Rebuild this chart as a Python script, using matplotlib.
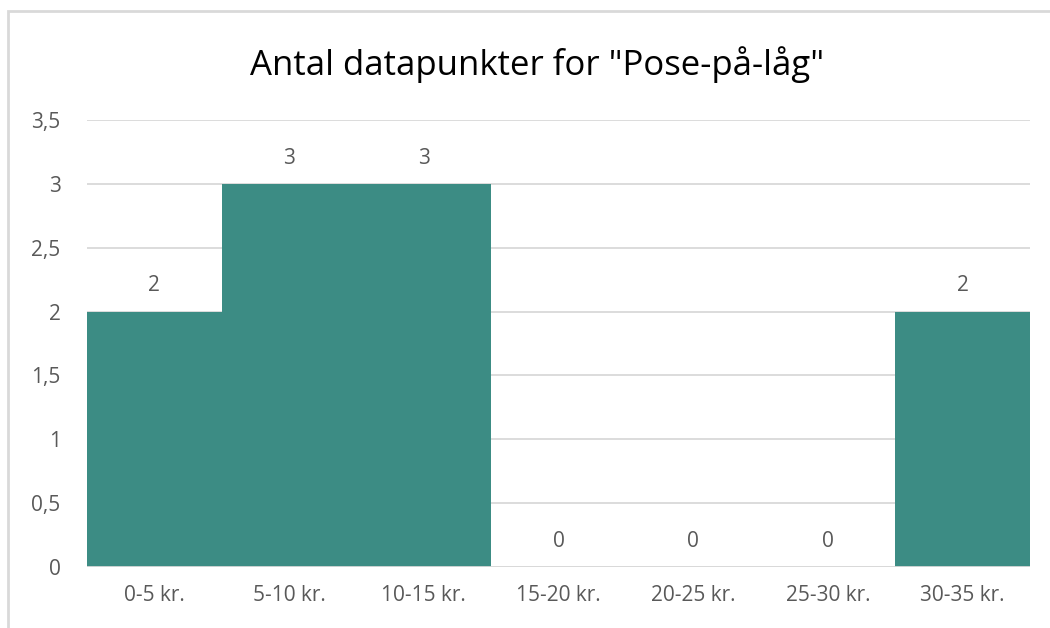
import matplotlib.pyplot as plt
from matplotlib.patches import Rectangle

# Data
categories = ["0-5 kr.", "5-10 kr.", "10-15 kr.", "15-20 kr.", "20-25 kr.", "25-30 kr.", "30-35 kr."]
counts = [2, 3, 3, 0, 0, 0, 2]
yticks = [0, 0.5, 1, 1.5, 2, 2.5, 3, 3.5]
ytick_labels = ["0", "0,5", "1", "1,5", "2", "2,5", "3", "3,5"]

plt.rcParams['font.family'] = ['Open Sans', 'DejaVu Sans']
text_color = '#595959'
grid_color = '#D9D9D9'
bar_color = '#3C8C84'

fig = plt.figure(figsize=(10.5, 6.28), dpi=100)
ax = fig.add_axes([87/1050, 61/628, 943/1050, 447/628])

x = range(len(categories))
ax.bar(x, counts, width=1.0, color=bar_color, zorder=2)

for xi, v in zip(x, counts):
    ax.annotate(str(v), (xi, v), xytext=(0, 11), textcoords='offset points',
                ha='center', va='bottom', fontsize=15, color=text_color)

ax.set_xlim(-0.5, len(categories) - 0.5)
ax.set_ylim(0, 3.5)
ax.set_yticks(yticks)
ax.set_yticklabels(ytick_labels)
ax.set_xticks(list(x))
ax.set_xticklabels(categories)
ax.tick_params(axis='both', length=0, labelsize=15, labelcolor=text_color)
ax.tick_params(axis='y', pad=19)
ax.tick_params(axis='x', pad=13)
ax.grid(axis='y', color=grid_color, linewidth=1.3, zorder=0)
for s in ax.spines.values():
    s.set_visible(False)
ax.axhline(0, color=grid_color, linewidth=1.3, zorder=3)

fig.text(537/1050, 1 - 65/628, 'Antal datapunkter for "Pose-på-låg"',
         ha='center', va='center', fontsize=25, color='black')

# chart border
fig.patches.append(Rectangle((8/1050, -0.1), 1.2, 1 - 11/628 + 0.1,
                             transform=fig.transFigure, fill=False,
                             edgecolor=grid_color, linewidth=2))

fig.savefig("out.png", dpi=100)
